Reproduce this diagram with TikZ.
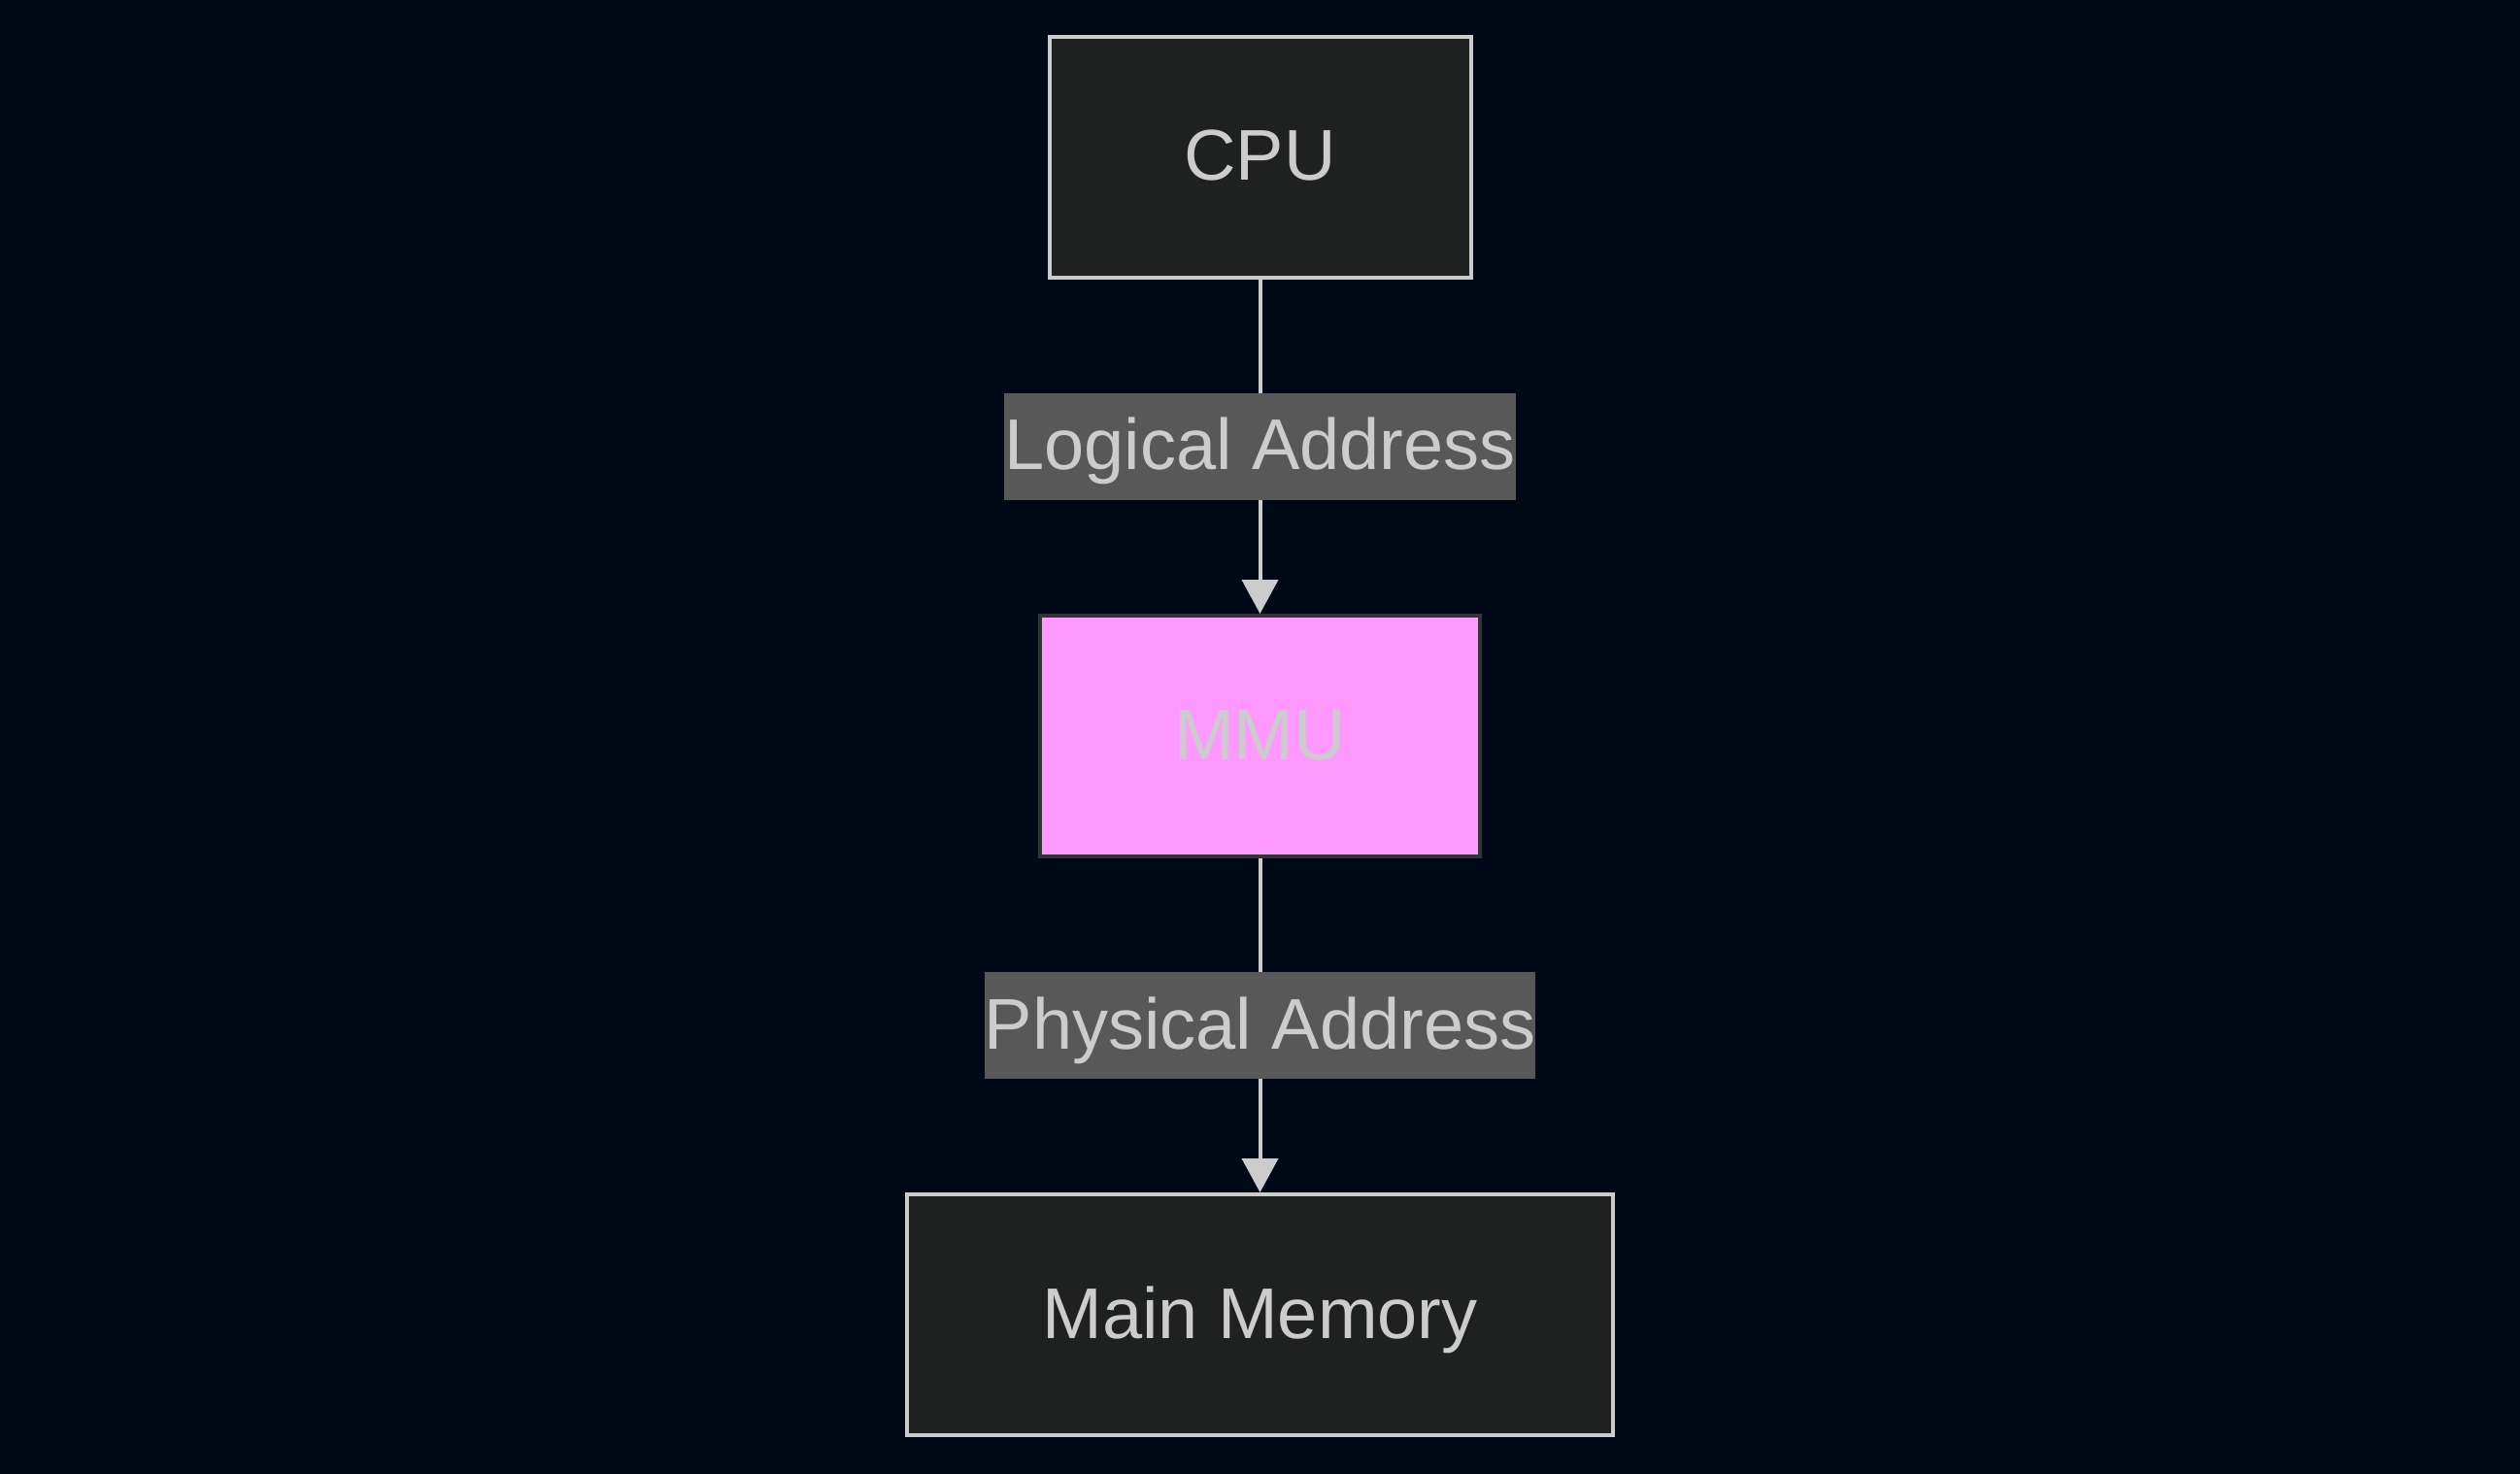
\documentclass[tikz,border=0pt]{standalone}
\usepackage{fontspec}
\setmainfont{Liberation Sans}
\usetikzlibrary{arrows.meta,positioning}
\definecolor{bgnavy}{HTML}{010816}
\definecolor{boxfill}{HTML}{1F2020}
\definecolor{boxline}{HTML}{CCCCCC}
\definecolor{mmufill}{HTML}{FF99FF}
\definecolor{mmuline}{HTML}{333333}
\definecolor{lblfill}{HTML}{585858}

\begin{document}
\begin{tikzpicture}[x=1pt, y=1pt,
  font=\fontsize{37}{44}\selectfont,
  every node/.style={text height=27pt, text depth=3pt},
  box/.style={draw=boxline, fill=boxfill, line width=2pt, text=boxline, minimum height=124pt, inner sep=0pt},
  mmubox/.style={box, draw=mmuline, fill=mmufill},
  lbl/.style={fill=lblfill, text=boxline, inner sep=0pt, minimum height=55pt},
  edge/.style={draw=boxline, line width=2pt, -{Triangle[width=18.5pt, length=17.5pt]}}]
  \fill[bgnavy] (0, 0) rectangle (1297.5, -759);
  \node[box, minimum width=217pt] (cpu) at (648.75, -81) {CPU};
  \node[mmubox, minimum width=226.5pt] (mmu) at (648.75, -379) {MMU};
  \node[box, minimum width=363.5pt] (mem) at (648.75, -677) {Main Memory};
  \draw[edge] (cpu) -- node[lbl]{Logical Address} (mmu);
  \draw[edge] (mmu) -- node[lbl]{Physical Address} (mem);
\end{tikzpicture}
\end{document}
